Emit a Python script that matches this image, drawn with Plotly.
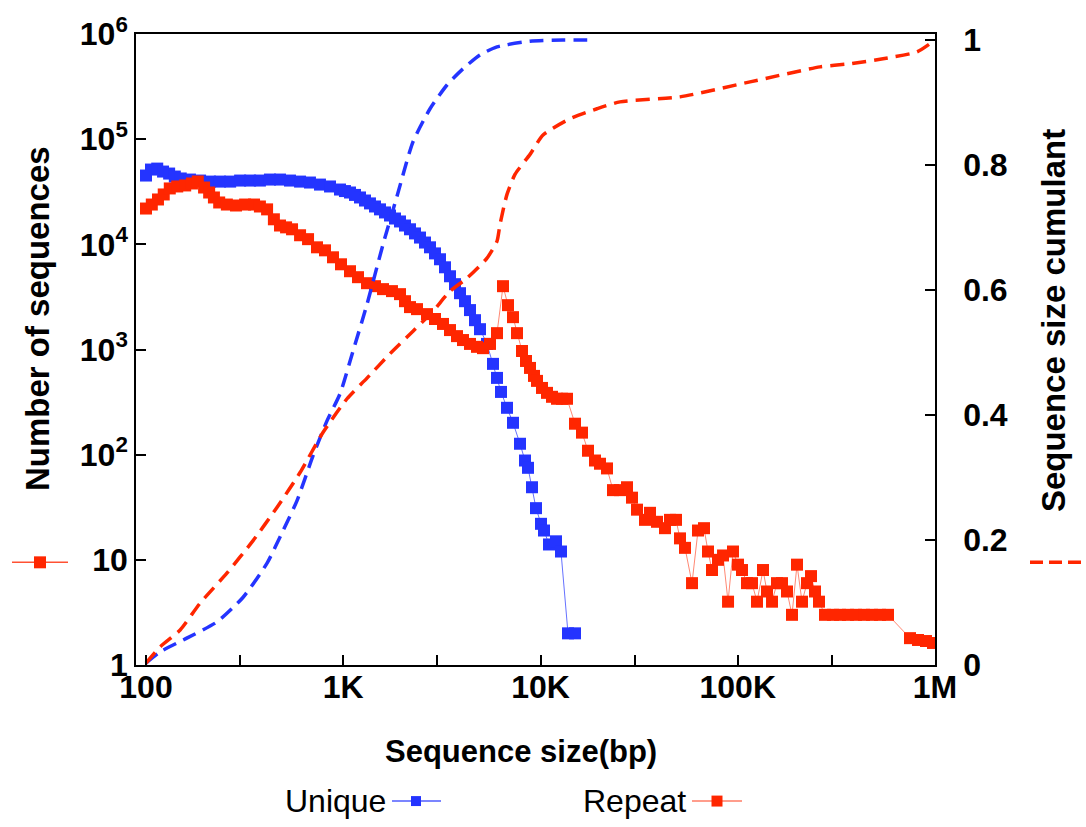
import plotly.graph_objects as go

# ---------------- data ----------------
unique_size = [100, 106, 114, 122, 131, 140, 150, 167, 188, 211, 237, 267, 300, 337, 378, 425, 478, 537,
               604, 678, 762, 857, 963, 1020, 1082, 1147, 1216, 1289, 1366, 1449, 1536, 1628, 1726, 1830,
               1940, 2056, 2180, 2311, 2449, 2597, 2753, 2918, 3094, 3280, 3477, 3686, 3908, 4142, 4391,
               4655, 4935, 5355, 5743, 6018, 6305, 6763, 7256, 7872, 8344, 8643, 9056, 9488, 10059, 10420,
               11044, 11984, 12700, 13785, 14959]
unique_count = [45100, 51400, 52500, 49200, 47100, 44100, 42300, 41300, 40400, 39500, 39500, 39500, 40400,
                40400, 40400, 41300, 41300, 40400, 39500, 38700, 37000, 35500, 33200, 32100, 31100, 29500,
                27900, 26100, 24500, 22900, 21500, 20100, 18800, 17600, 16500, 15100, 13900, 12700, 11600,
                10400, 9370, 8200, 7210, 6050, 4970, 4180, 3430, 2880, 2370, 1900, 1560, 1130, 730, 537,
                395, 279, 201, 127, 88, 75, 49, 31, 22, 19, 14, 15, 12, 2, 2]

repeat_size = [100, 107, 115, 123, 132, 144, 158, 171, 183, 197, 209, 221, 235, 257, 286, 318, 353, 378,
               411, 445, 478, 513, 550, 604, 663, 736, 808, 887, 974, 1082, 1188, 1319, 1449, 1591, 1766,
               1940, 2056, 2180, 2365, 2658, 2918, 3204, 3477, 3773, 4047, 4391, 4766, 5110, 5546, 6018,
               6455, 6843, 7256, 7602, 8060, 8445, 8848, 9270, 9601, 10177, 10789, 11437, 12125, 12853,
               13625, 14959, 16232, 17410, 18890, 20030, 21730, 23310, 25290, 27450, 29100, 30850, 33870,
               35910, 38960, 42780, 45350, 48630, 50950, 54030, 58640, 62890, 67440, 70660, 74040, 79410,
               84210, 89280, 94600, 100300, 105100, 111400, 118100, 125200, 134300, 140700, 149200,
               158100, 167600, 177700, 188400, 199700, 211700, 224400, 235200, 246400, 258200, 276900,
               304000, 329900, 362200, 397700, 436700, 479300, 526300, 577800, 746900, 820100, 900400,
               977000]
repeat_count = [21900, 23900, 26700, 29800, 34000, 35500, 36300, 37900, 39600, 34700, 31100, 27900, 25000,
                23900, 23400, 23900, 23900, 22900, 21500, 17300, 15100, 14500, 13900, 12200, 11200, 9370,
                8770, 7530, 6460, 5550, 4870, 4270, 4000, 3750, 3590, 3360, 2880, 2530, 2420, 2170, 1950,
                1750, 1530, 1340, 1230, 1130, 1060, 1030, 1130, 1430, 4000, 2640, 2030, 1430, 968, 778,
                668, 561, 503, 431, 387, 355, 340, 340, 340, 197, 162, 109, 88, 82, 74, 46, 46, 49, 39,
                30, 24, 28, 23, 20, 24, 24, 16, 13, 6, 19, 20, 12, 8, 10, 11, 4, 12, 9, 8, 6, 6, 4, 8, 5,
                4, 6, 6, 5, 3, 9, 4, 6, 7, 5, 4, 3, 3, 3, 3, 3, 3, 3, 3, 3, 1.8, 1.73, 1.69, 1.62]

cum_unique_size = [100, 118, 161, 229, 310, 411, 495, 583, 703, 828, 963, 1120, 1319, 1591, 1873, 2257,
                   2754, 3357, 4047, 4935, 6018, 8848, 13000, 18450]
cum_unique = [0.003, 0.021, 0.043, 0.069, 0.108, 0.163, 0.215, 0.263, 0.335, 0.391, 0.434, 0.502, 0.577,
              0.673, 0.750, 0.837, 0.890, 0.928, 0.954, 0.976, 0.989, 0.998, 1.0, 1.0]

cum_repeat_size = [100, 118, 149, 188, 257, 349, 461, 604, 789, 1045, 1319, 1726, 2257, 2851, 3477, 4240,
                   5355, 6018, 6233, 6763, 7424, 8848, 10300, 14110, 19340, 25290, 50950, 115400, 261200,
                   370700, 544900, 810400, 1000000]
cum_repeat = [0.003, 0.029, 0.056, 0.099, 0.147, 0.199, 0.252, 0.308, 0.372, 0.426, 0.459, 0.498, 0.534,
              0.566, 0.598, 0.619, 0.651, 0.678, 0.705, 0.753, 0.785, 0.817, 0.848, 0.874, 0.890, 0.901,
              0.909, 0.933, 0.957, 0.962, 0.970, 0.981, 1.0]

x_tickvals = [100, 1000, 10000, 100000, 1000000]
x_ticktext = ["100", "1K", "10K", "100K", "1M"]
x_minorvals = [300, 3000, 30000, 300000]
y_tickvals = [1, 10, 100, 1000, 10000, 100000, 1000000]
y_ticktext = ["1", "10", "10<sup>2</sup>", "10<sup>3</sup>", "10<sup>4</sup>", "10<sup>5</sup>", "10<sup>6</sup>"]
y2_tickvals = [0, 0.2, 0.4, 0.6, 0.8, 1]
y2_ticktext = ["0", "0.2", "0.4", "0.6", "0.8", "1"]

BLUE = "rgb(36,52,255)"
RED = "rgb(255,38,0)"
FONT = "Liberation Sans, Arial, sans-serif"

fig = go.Figure()
fig.add_trace(go.Scatter(x=unique_size, y=unique_count, mode="lines+markers", name="Unique",
                         line=dict(color="rgba(36,52,255,0.7)", width=1),
                         marker=dict(symbol="square", size=12, color=BLUE, line=dict(width=0))))
fig.add_trace(go.Scatter(x=repeat_size, y=repeat_count, mode="lines+markers", name="Repeat",
                         line=dict(color="rgba(255,38,0,0.55)", width=1),
                         marker=dict(symbol="square", size=12, color=RED, line=dict(width=0))))
fig.add_trace(go.Scatter(x=cum_unique_size, y=cum_unique, mode="lines", yaxis="y2",
                         line=dict(color=BLUE, width=3.5, dash="14px,8px", shape="spline", smoothing=0.6)))
fig.add_trace(go.Scatter(x=cum_repeat_size, y=cum_repeat, mode="lines", yaxis="y2",
                         line=dict(color=RED, width=3.5, dash="14px,8px", shape="spline", smoothing=0.6)))

L, R, T, B = 136, 935, 32, 665
W, H = 1086, 827
def px(x):
    return (x - L) / (R - L)
def py(y):
    return (B - y) / (B - T)

annotations = [
    dict(text="<b>Sequence size(bp)</b>", x=px(521), y=py(752), font=dict(size=31)),
    dict(text="<b>Number of sequences</b>", x=px(37), y=py(318), textangle=-90, font=dict(size=33)),
    dict(text="<b>Sequence size cumulant</b>", x=px(1053), y=py(320), textangle=-90, font=dict(size=33)),
    dict(text="Unique", x=px(388), y=py(801), xanchor="right", font=dict(size=32)),
    dict(text="Repeat", x=px(688), y=py(801), xanchor="right", font=dict(size=32)),
]
for a in annotations:
    a.setdefault("xanchor", "center")
    a["yanchor"] = "middle"
    a["xref"] = "paper"
    a["yref"] = "paper"
    a["showarrow"] = False
    a["font"].update(family=FONT, color="black")

shapes = []
def hline(x0, x1, y, color, width, dash="solid"):
    shapes.append(dict(type="line", xref="paper", yref="paper", x0=px(x0), x1=px(x1), y0=py(y), y1=py(y),
                       line=dict(color=color, width=width, dash=dash)))
def square(cx, cy, s, color):
    shapes.append(dict(type="rect", xref="paper", yref="paper", x0=px(cx - s / 2), x1=px(cx + s / 2),
                       y0=py(cy + s / 2), y1=py(cy - s / 2), fillcolor=color, line=dict(width=0)))

hline(392, 441, 801.5, "rgba(36,52,255,0.8)", 1.5)
square(416, 801.5, 10, BLUE)
hline(692, 742, 801.5, "rgba(255,38,0,0.45)", 2)
square(717, 801.5, 11, RED)
hline(12, 68, 562, "rgba(255,38,0,0.8)", 1.5)
square(40, 562, 12, RED)
hline(1030, 1090, 562, RED, 3.5, "13px,6px")

tickfont = dict(size=32, family=FONT, weight="bold", color="black")
fig.update_layout(
    width=W, height=H, autosize=False,
    margin=dict(l=L, r=W - R, t=T, b=H - B, pad=0),
    paper_bgcolor="white", plot_bgcolor="white",
    showlegend=False,
    font=dict(family=FONT, color="black"),
    xaxis=dict(type="log", range=[1.9493, 6.0], tickvals=x_tickvals, ticktext=x_ticktext,
               ticks="inside", ticklen=10, tickwidth=1.5, tickcolor="black",
               minor=dict(tickvals=x_minorvals, ticks="inside", ticklen=10, tickwidth=1.5,
                          tickcolor="black", showgrid=False),
               showline=True, linecolor="black", linewidth=1.5, mirror=True,
               showgrid=False, zeroline=False, ticklabelstandoff=-7,
               tickfont=tickfont),
    yaxis=dict(type="log", range=[0, 6], tickvals=y_tickvals, ticktext=y_ticktext,
               ticks="inside", ticklen=10, tickwidth=1.5, tickcolor="black",
               showline=True, linecolor="black", linewidth=1.5,
               showgrid=False, zeroline=False,
               tickfont=tickfont),
    yaxis2=dict(overlaying="y", side="right", range=[0, 1.0096], tickvals=y2_tickvals, ticktext=y2_ticktext,
                ticks="inside", ticklen=10, tickwidth=1.5, tickcolor="black",
                showline=True, linecolor="black", linewidth=1.5,
                showgrid=False, zeroline=False, ticklabelstandoff=20,
                tickfont=tickfont),
    annotations=annotations,
    shapes=shapes,
)

fig.write_html("out.html")
